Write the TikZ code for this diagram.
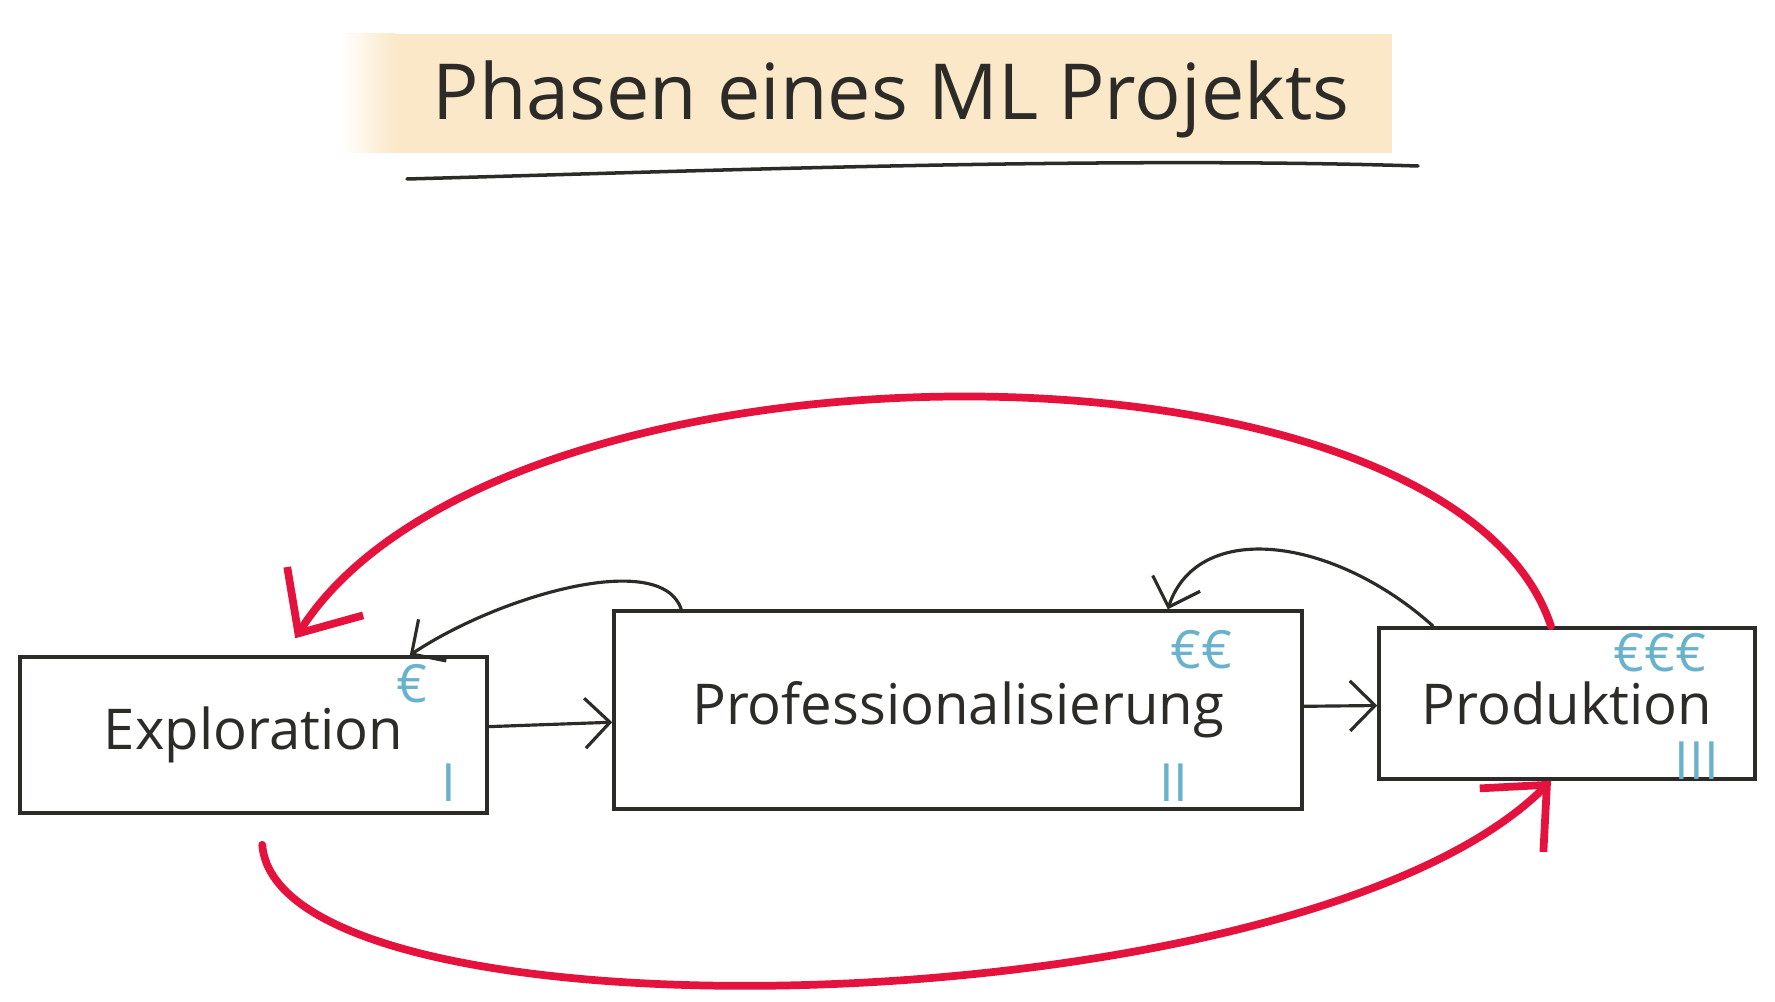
\documentclass[tikz,border=0pt]{standalone}
\usepackage{fontspec}
\setmainfont{Open Sans}
\usetikzlibrary{positioning, arrows.meta, calc}
\definecolor{inkgray}{RGB}{45, 43, 40}
\definecolor{markred}{RGB}{228, 18, 60}
\definecolor{costblue}{RGB}{105, 178, 204}
\definecolor{titlebg}{RGB}{250, 232, 200}

\begin{document}
\begin{tikzpicture}[
    phase/.style={draw=inkgray, line width=1pt, rectangle, font=\fontsize{16}{19}\selectfont, text=inkgray},
    cost/.style={font=\fontsize{15}{18}\selectfont, text=costblue, inner sep=0pt},
    flow/.style={draw=inkgray, line width=0.9pt, -{Straight Barb[length=2.5mm, width=5mm]}},
    loop/.style={draw=markred, line width=2.2pt, line cap=round, -{Straight Barb[length=5mm, width=9mm]}}
]
    \useasboundingbox (0,0) rectangle (17.75,10.01);

    % Titel
    \shade[left color=white, right color=titlebg] (3.40,8.48) rectangle (3.95,9.67);
    \fill[titlebg] (3.94,8.48) rectangle (13.92,9.67);
    \node[font=\fontsize{22}{26}\selectfont, text=inkgray] (title) at (8.91,9.02) {Phasen eines ML Projekts};
    \draw[inkgray, line width=1pt, line cap=round] (4.07,8.22) .. controls (7,8.3) and (11,8.45) .. (14.18,8.35);

    % Phasen
    \node[phase, minimum width=4.67cm, minimum height=1.56cm] (expl) at (2.535,2.66) {Exploration};
    \node[phase, minimum width=6.88cm, minimum height=1.98cm] (prof) at (9.58,2.91) {Professionalisierung};
    \node[phase, minimum width=3.76cm, minimum height=1.51cm] (prod) at (15.67,2.975) {Produktion};

    % Kosten und Nummern
    \node[cost] (cost1) at ($(expl.north east)+(-0.77,-0.28)$) {€};
    \node[cost] (num1) at ($(expl.south east)+(-0.40,0.32)$) {I};
    \node[cost] (cost2) at ($(prof.north east)+(-1.02,-0.40)$) {€€};
    \node[cost] (num2) at ($(prof.south east)+(-1.30,0.28)$) {II};
    \node[cost] (cost3) at ($(prod.north east)+(-0.97,-0.26)$) {€€€};
    \node[cost] (num3) at ($(prod.south east)+(-0.60,0.20)$) {III};

    % Übergänge
    \draw[flow] (expl) -- (prof);
    \draw[flow] (prof) -- (prod);
    \draw[flow] ($(prof.north west)+(0.69,0)$) .. controls +(-0.2,0.6) and +(0.9,0.6) .. ($(expl.north east)+(-0.79,0)$);
    \draw[flow] ($(prod.north west)+(0.56,0)$) .. controls +(-1.0,0.9) and +(0.3,0.9) .. ($(prof.north east)+(-1.36,0)$);

    % Rückkopplung
    \draw[loop] ($(prod.north)+(-0.16,0)$) .. controls +(-1.01,3.07) and +(2.03,3.19) .. ($(expl.north west)+(2.77,0.17)$);
    \draw[loop] ($(expl.south west)+(2.44,-0.30)$) .. controls +(0.16,-2.06) and +(-2.5,-2.5) .. ($(prod.south)+(-0.16,0)$);
\end{tikzpicture}
\end{document}
